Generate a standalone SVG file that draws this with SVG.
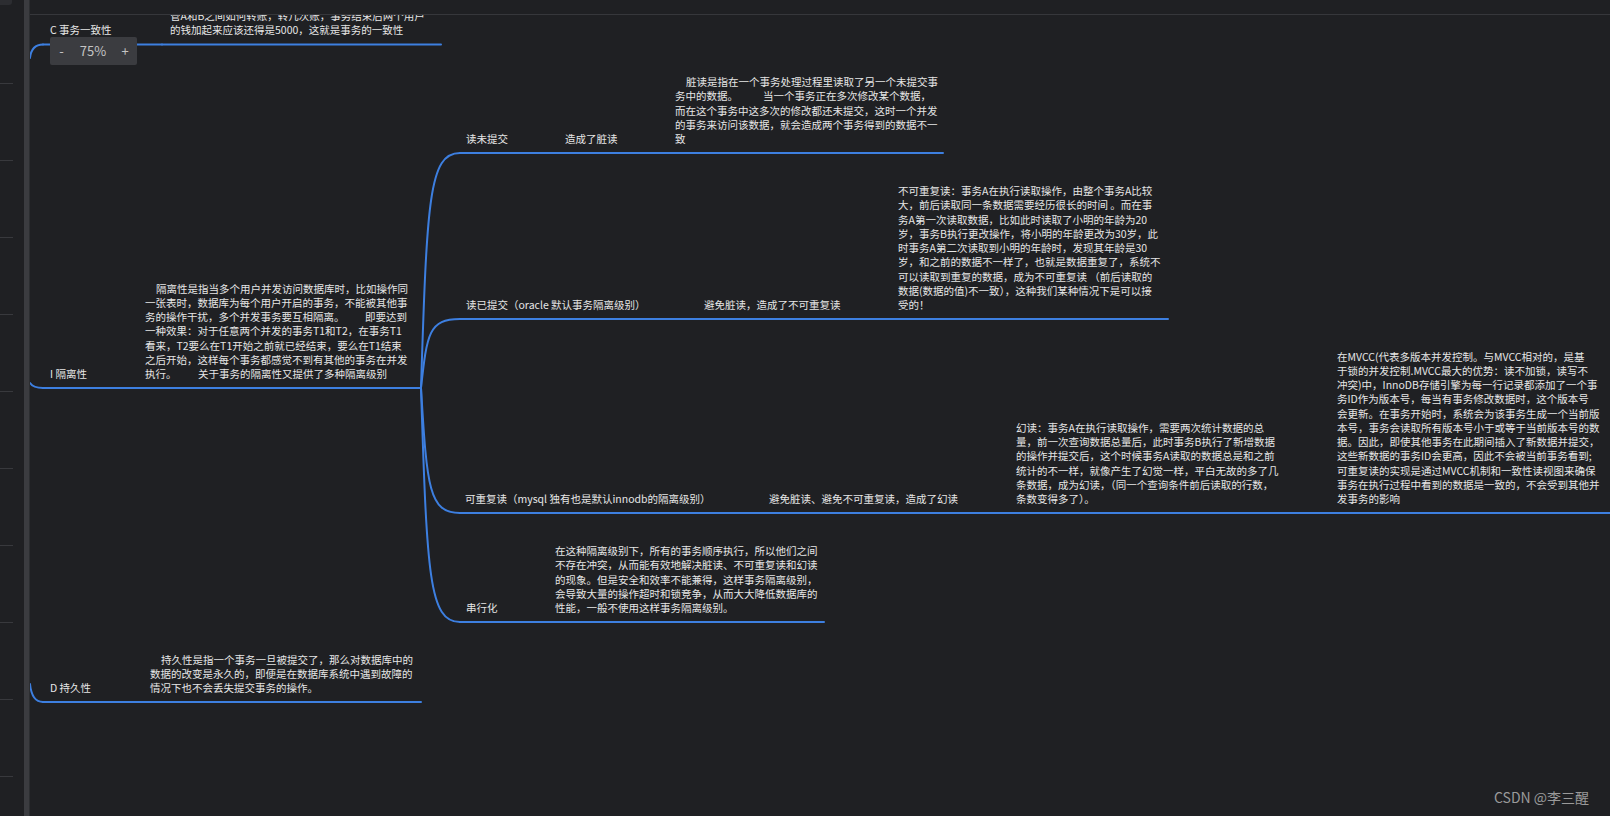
<svg xmlns="http://www.w3.org/2000/svg" width="1610" height="816" viewBox="0 0 1610 816">
<style>
text{font-family:"Microsoft YaHei","Noto Sans CJK SC",sans-serif;font-size:10.5px;fill:#e6e6e6}
.ln{fill:none;stroke:#3d7fe0;stroke-width:2;stroke-linecap:round}
.ui{fill:#c4c4c4;font-size:13px}
.wm{fill:#9a9a9a;font-size:14px}
.tick{stroke:#38393d;stroke-width:1}
</style>
<rect width="1610" height="816" fill="#1f2023"/>

<g id="connectors">
<path class="ln" d="M30,58 C31,49 35,44.5 43,44.5"/>
<path class="ln" d="M30,383 C32,386 35,388 43,388"/>
<path class="ln" d="M30,684 C31,694 35,702 43,702"/>
<path class="ln" d="M421,388 C427,200 429,153 460,153"/>
<path class="ln" d="M421,388 C427,333 429,319 460,319"/>
<path class="ln" d="M421,388 C427,488 429,513 460,513"/>
<path class="ln" d="M421,388 C427,575 429,622 460,622"/>
</g>

<g id="node-c">
<path class="ln" d="M43,44.5 H162"/>
<text x="50" y="34">C 事务一致性</text>
</g>
<g id="node-c-desc">
<path class="ln" d="M162,44.5 H441"/>
<text x="170" y="19.75">管A和B之间如何转账，转几次账，事务结束后两个用户</text>
<text x="170" y="34">的钱加起来应该还得是5000，这就是事务的一致性</text>
</g>

<g id="node-i">
<path class="ln" d="M43,388 H137"/>
<text x="50" y="378">I 隔离性</text>
</g>
<g id="node-i-desc">
<path class="ln" d="M137,388 H421"/>
<text x="156" y="292.5">隔离性是指当多个用户并发访问数据库时，比如操作同</text>
<text x="145" y="306.75">一张表时，数据库为每个用户开启的事务，不能被其他事</text>
<text x="145" y="321">务的操作干扰，多个并发事务要互相隔离。<tspan x="365">即要达到</tspan></text>
<text x="145" y="335.25">一种效果：对于任意两个并发的事务T1和T2，在事务T1</text>
<text x="145" y="349.5">看来，T2要么在T1开始之前就已经结束，要么在T1结束</text>
<text x="145" y="363.75">之后开始，这样每个事务都感觉不到有其他的事务在并发</text>
<text x="145" y="378">执行。<tspan x="198">关于事务的隔离性又提供了多种隔离级别</tspan></text>
</g>

<g id="node-d">
<path class="ln" d="M43,702 H142"/>
<text x="50" y="692">D 持久性</text>
</g>
<g id="node-d-desc">
<path class="ln" d="M142,702 H421"/>
<text x="161" y="663.5">持久性是指一个事务一旦被提交了，那么对数据库中的</text>
<text x="150" y="677.75">数据的改变是永久的，即便是在数据库系统中遇到故障的</text>
<text x="150" y="692">情况下也不会丢失提交事务的操作。</text>
</g>

<g id="node-ru">
<path class="ln" d="M460,153 H557"/>
<text x="466" y="143">读未提交</text>
</g>
<g id="node-ru-effect">
<path class="ln" d="M557,153 H667"/>
<text x="565" y="143">造成了脏读</text>
</g>
<g id="node-ru-desc">
<path class="ln" d="M667,153 H943"/>
<text x="686" y="86">脏读是指在一个事务处理过程里读取了另一个未提交事</text>
<text x="675" y="100.25">务中的数据。<tspan x="763">当一个事务正在多次修改某个数据，</tspan></text>
<text x="675" y="114.5">而在这个事务中这多次的修改都还未提交，这时一个并发</text>
<text x="675" y="128.75">的事务来访问该数据，就会造成两个事务得到的数据不一</text>
<text x="675" y="143">致</text>
</g>

<g id="node-rc">
<path class="ln" d="M460,319 H696"/>
<text x="466" y="309">读已提交（oracle 默认事务隔离级别）</text>
</g>
<g id="node-rc-effect">
<path class="ln" d="M696,319 H890"/>
<text x="704" y="309">避免脏读，造成了不可重复读</text>
</g>
<g id="node-rc-desc">
<path class="ln" d="M890,319 H1168"/>
<text x="898" y="195">不可重复读：事务A在执行读取操作，由整个事务A比较</text>
<text x="898" y="209.25">大，前后读取同一条数据需要经历很长的时间 。而在事</text>
<text x="898" y="223.5">务A第一次读取数据，比如此时读取了小明的年龄为20</text>
<text x="898" y="237.75">岁，事务B执行更改操作，将小明的年龄更改为30岁，此</text>
<text x="898" y="252">时事务A第二次读取到小明的年龄时，发现其年龄是30</text>
<text x="898" y="266.25">岁，和之前的数据不一样了，也就是数据重复了，系统不</text>
<text x="898" y="280.5">可以读取到重复的数据，成为不可重复读 （前后读取的</text>
<text x="898" y="294.75">数据(数据的值)不一致），这种我们某种情况下是可以接</text>
<text x="898" y="309">受的！</text>
</g>

<g id="node-rr">
<path class="ln" d="M460,513 H761"/>
<text x="465" y="503">可重复读（mysql 独有也是默认innodb的隔离级别）</text>
</g>
<g id="node-rr-effect">
<path class="ln" d="M761,513 H1008"/>
<text x="769" y="503">避免脏读、避免不可重复读，造成了幻读</text>
</g>
<g id="node-rr-desc">
<path class="ln" d="M1008,513 H1329"/>
<text x="1016" y="431.75">幻读：事务A在执行读取操作，需要两次统计数据的总</text>
<text x="1016" y="446">量，前一次查询数据总量后，此时事务B执行了新增数据</text>
<text x="1016" y="460.25">的操作并提交后，这个时候事务A读取的数据总是和之前</text>
<text x="1016" y="474.5">统计的不一样，就像产生了幻觉一样，平白无故的多了几</text>
<text x="1016" y="488.75">条数据，成为幻读，（同一个查询条件前后读取的行数，</text>
<text x="1016" y="503">条数变得多了）。</text>
</g>
<g id="node-mvcc">
<path class="ln" d="M1329,513 H1612"/>
<text x="1337" y="360.5">在MVCC(代表多版本并发控制。与MVCC相对的，是基</text>
<text x="1337" y="374.75">于锁的并发控制.MVCC最大的优势：读不加锁，读写不</text>
<text x="1337" y="389">冲突)中，InnoDB存储引擎为每一行记录都添加了一个事</text>
<text x="1337" y="403.25">务ID作为版本号，每当有事务修改数据时，这个版本号</text>
<text x="1337" y="417.5">会更新。在事务开始时，系统会为该事务生成一个当前版</text>
<text x="1337" y="431.75">本号，事务会读取所有版本号小于或等于当前版本号的数</text>
<text x="1337" y="446">据。因此，即使其他事务在此期间插入了新数据并提交，</text>
<text x="1337" y="460.25">这些新数据的事务ID会更高，因此不会被当前事务看到;</text>
<text x="1337" y="474.5">可重复读的实现是通过MVCC机制和一致性读视图来确保</text>
<text x="1337" y="488.75">事务在执行过程中看到的数据是一致的，不会受到其他并</text>
<text x="1337" y="503">发事务的影响</text>
</g>

<g id="node-se">
<path class="ln" d="M460,622 H547"/>
<text x="466" y="612">串行化</text>
</g>
<g id="node-se-desc">
<path class="ln" d="M547,622 H824"/>
<text x="555" y="555">在这种隔离级别下，所有的事务顺序执行，所以他们之间</text>
<text x="555" y="569.25">不存在冲突，从而能有效地解决脏读、不可重复读和幻读</text>
<text x="555" y="583.5">的现象。但是安全和效率不能兼得，这样事务隔离级别，</text>
<text x="555" y="597.75">会导致大量的操作超时和锁竞争，从而大大降低数据库的</text>
<text x="555" y="612">性能，一般不使用这样事务隔离级别。</text>
</g>

<g id="chrome">
<rect x="0" y="0" width="1610" height="14" fill="#1f2023"/>
<path d="M30,14.5 H1610" stroke="#36373b" stroke-width="1"/>
<rect x="0" y="0" width="30" height="816" fill="#1f2023"/>
<rect x="24" y="0" width="5.5" height="816" fill="#3b3c40"/>
<path d="M0,0 H12 V2 Q12,5 9,5 H0 Z" fill="#2c2d31"/>
<g class="tick">
<path d="M0,83.5 H13"/><path d="M0,160.5 H13"/><path d="M0,237.5 H13"/><path d="M0,314.5 H13"/><path d="M0,391.5 H13"/>
<path d="M0,468.5 H13"/><path d="M0,545.5 H13"/><path d="M0,622.5 H13"/><path d="M0,699.5 H13"/><path d="M0,776.5 H13"/>
</g>
</g>

<g id="zoom-control">
<rect x="50" y="37" width="87" height="28" rx="2" fill="#3b3c40"/>
<text class="ui" x="61.5" y="56" text-anchor="middle">-</text>
<text class="ui" x="93" y="56" text-anchor="middle">75%</text>
<text class="ui" x="125" y="56" text-anchor="middle">+</text>
</g>

<text class="wm" x="1494" y="803">CSDN @李三醒</text>
</svg>
